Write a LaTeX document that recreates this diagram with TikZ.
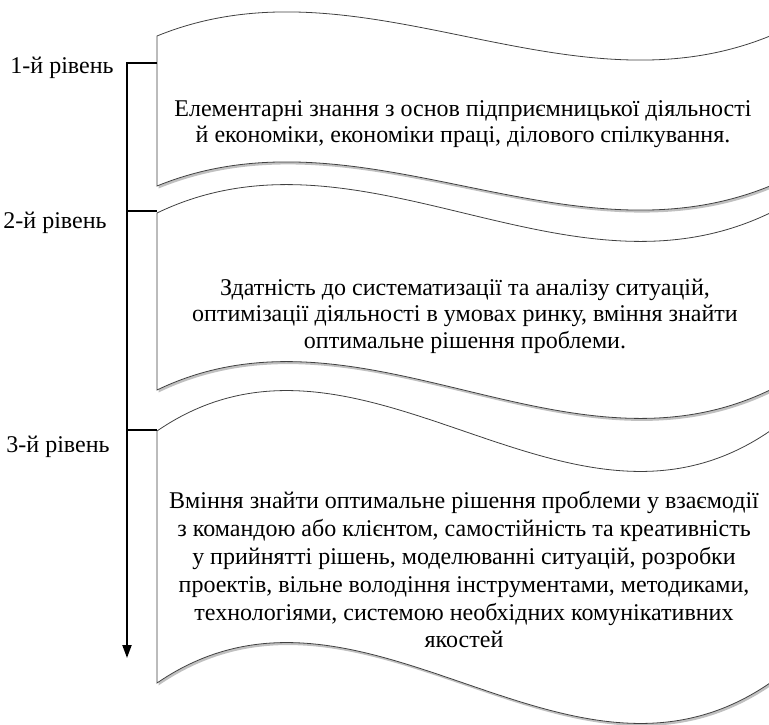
\documentclass[tikz,border=0pt]{standalone}
\usepackage{fontspec}
\setmainfont{Liberation Serif}
\newfontfamily\tnr{Liberation Serif}
\usetikzlibrary{arrows.meta,shadows}
\tikzset{
  banner/.style={draw=black!75, line width=0.8pt, fill=white,
    drop shadow={shadow xshift=1.5pt, shadow yshift=-2.5pt, fill=black!45, opacity=0.55}},
  bantext/.style={align=center, font=\tnr\fontsize{24}{26.5}\selectfont},
  lvl/.style={font=\tnr\fontsize{24}{26}\selectfont},
  axis/.style={line width=2pt, black},
}
% \wavebanner{top}{bottom}
\newcommand{\wavebanner}[2]{%
  \pgfmathsetmacro{\dd}{0.556*(#2-#1)}%
  \path[banner] (157,#1) .. controls (361.3,#1-\dd) and (565.7,#1+\dd) .. (770,#1)
    -- (770,#2) .. controls (565.7,#2+\dd) and (361.3,#2-\dd) .. (157,#2) -- cycle;%
}
\begin{document}
\begin{tikzpicture}[x=1pt,y=-1pt]
\useasboundingbox (0,0) rectangle (769,725);
\wavebanner{36}{186}
\wavebanner{213}{390}
\wavebanner{431}{683}

\node[bantext] (t1) at (463,124) {Елементарні знання з основ підприємницької діяльності\\й економіки, економіки праці, ділового спілкування.};
\node[bantext] (t2) at (465,316) {Здатність до систематизації та аналізу ситуацій,\\оптимізації діяльності в умовах ринку, вміння знайти\\оптимальне рішення проблеми.};
\node[bantext, font=\tnr\fontsize{24}{27.8}\selectfont] (t3) at (464,570) {Вміння знайти оптимальне рішення проблеми у взаємодії\\з командою або клієнтом, самостійність та креативність\\у прийнятті рішень, моделюванні ситуацій, розробки\\проектів, вільне володіння інструментами, методиками,\\технологіями, системою необхідних комунікативних\\якостей};

\node[lvl] (l1) at (62,68) {1-й рівень};
\node[lvl] (l2) at (55,223) {2-й рівень};
\node[lvl] (l3) at (58,447) {3-й рівень};

\coordinate (b1) at (157,63);
\coordinate (b2) at (157,211);
\coordinate (b3) at (157,430);
\coordinate (c1) at (127,63);
\coordinate (c2) at (127,211);
\coordinate (c3) at (127,430);
\coordinate (end) at (127,658);
\draw[axis, -{Triangle[length=13pt,width=9pt]}] (b1) -- (c1) -- (end);
\draw[axis] (c2) -- (b2);
\draw[axis] (c3) -- (b3);
\end{tikzpicture}
\end{document}
